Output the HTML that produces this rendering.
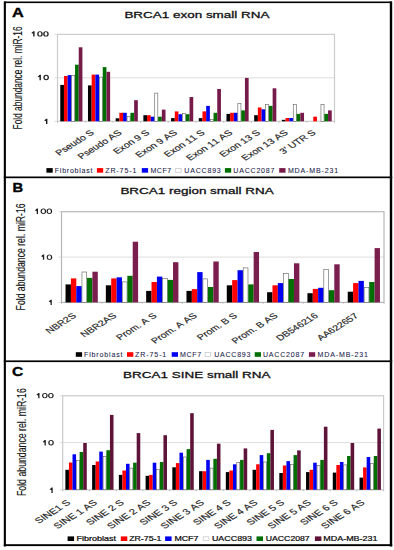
<!DOCTYPE html><html><head><meta charset="utf-8"><style>html,body{margin:0;padding:0;background:#fff;width:394px;height:550px;overflow:hidden}svg{display:block}text{font-family:"Liberation Sans", sans-serif;font-kerning:none}</style></head><body>
<svg width="394" height="550" viewBox="0 0 394 550">
<rect x="0" y="0" width="394" height="550" fill="#fff"/>
<line x1="57.5" y1="77.8" x2="334.5" y2="77.8" stroke="#d4d4d4" stroke-width="0.8"/>
<rect x="57.5" y="34.4" width="277" height="86.9" fill="none" stroke="#cdcdcd" stroke-width="1.2"/>
<line x1="54.5" y1="34.4" x2="57.5" y2="34.4" stroke="#d0d0d0" stroke-width="0.7"/>
<line x1="54.5" y1="77.8" x2="57.5" y2="77.8" stroke="#d0d0d0" stroke-width="0.7"/>
<line x1="54.5" y1="121.3" x2="57.5" y2="121.3" stroke="#d0d0d0" stroke-width="0.7"/>
<line x1="57.5" y1="121.3" x2="57.5" y2="122.9" stroke="#b8b8b8" stroke-width="0.8"/>
<line x1="85.2" y1="121.3" x2="85.2" y2="122.9" stroke="#b8b8b8" stroke-width="0.8"/>
<line x1="112.9" y1="121.3" x2="112.9" y2="122.9" stroke="#b8b8b8" stroke-width="0.8"/>
<line x1="140.6" y1="121.3" x2="140.6" y2="122.9" stroke="#b8b8b8" stroke-width="0.8"/>
<line x1="168.3" y1="121.3" x2="168.3" y2="122.9" stroke="#b8b8b8" stroke-width="0.8"/>
<line x1="196" y1="121.3" x2="196" y2="122.9" stroke="#b8b8b8" stroke-width="0.8"/>
<line x1="223.7" y1="121.3" x2="223.7" y2="122.9" stroke="#b8b8b8" stroke-width="0.8"/>
<line x1="251.4" y1="121.3" x2="251.4" y2="122.9" stroke="#b8b8b8" stroke-width="0.8"/>
<line x1="279.1" y1="121.3" x2="279.1" y2="122.9" stroke="#b8b8b8" stroke-width="0.8"/>
<line x1="306.8" y1="121.3" x2="306.8" y2="122.9" stroke="#b8b8b8" stroke-width="0.8"/>
<line x1="334.5" y1="121.3" x2="334.5" y2="122.9" stroke="#b8b8b8" stroke-width="0.8"/>
<rect x="60.27" y="84.9" width="3.69" height="36.4" fill="#000000"/>
<rect x="63.96" y="76" width="3.69" height="45.3" fill="#ff0000"/>
<rect x="67.66" y="75.1" width="3.69" height="46.2" fill="#0000f0"/>
<rect x="71.65" y="75.6" width="3.09" height="45.7" fill="#ffffff" stroke="#505050" stroke-width="0.55"/>
<rect x="75.04" y="64.7" width="3.69" height="56.6" fill="#006e00"/>
<rect x="78.74" y="47.3" width="3.69" height="74" fill="#761a4a"/>
<rect x="87.97" y="85.4" width="3.69" height="35.9" fill="#000000"/>
<rect x="91.66" y="74.6" width="3.69" height="46.7" fill="#ff0000"/>
<rect x="95.36" y="74.6" width="3.69" height="46.7" fill="#0000f0"/>
<rect x="99.35" y="77.1" width="3.09" height="44.2" fill="#ffffff" stroke="#505050" stroke-width="0.55"/>
<rect x="102.74" y="67.1" width="3.69" height="54.2" fill="#006e00"/>
<rect x="106.44" y="71.8" width="3.69" height="49.5" fill="#761a4a"/>
<rect x="115.67" y="118.3" width="3.69" height="3" fill="#000000"/>
<rect x="119.36" y="112.8" width="3.69" height="8.5" fill="#ff0000"/>
<rect x="123.06" y="112.8" width="3.69" height="8.5" fill="#0000f0"/>
<rect x="127.05" y="116.4" width="3.09" height="4.9" fill="#ffffff" stroke="#505050" stroke-width="0.55"/>
<rect x="130.44" y="112.8" width="3.69" height="8.5" fill="#006e00"/>
<rect x="134.14" y="100.2" width="3.69" height="21.1" fill="#761a4a"/>
<rect x="143.37" y="115.2" width="3.69" height="6.1" fill="#000000"/>
<rect x="147.06" y="115.2" width="3.69" height="6.1" fill="#ff0000"/>
<rect x="150.76" y="116.7" width="3.69" height="4.6" fill="#0000f0"/>
<rect x="154.75" y="93.1" width="3.09" height="28.2" fill="#ffffff" stroke="#505050" stroke-width="0.55"/>
<rect x="158.14" y="116.7" width="3.69" height="4.6" fill="#006e00"/>
<rect x="161.84" y="109.6" width="3.69" height="11.7" fill="#761a4a"/>
<rect x="171.07" y="118.1" width="3.69" height="3.2" fill="#000000"/>
<rect x="174.76" y="111.4" width="3.69" height="9.9" fill="#ff0000"/>
<rect x="178.46" y="114.2" width="3.69" height="7.1" fill="#0000f0"/>
<rect x="182.45" y="113.7" width="3.09" height="7.6" fill="#ffffff" stroke="#505050" stroke-width="0.55"/>
<rect x="185.84" y="114.2" width="3.69" height="7.1" fill="#006e00"/>
<rect x="189.54" y="97" width="3.69" height="24.3" fill="#761a4a"/>
<rect x="198.77" y="118.1" width="3.69" height="3.2" fill="#000000"/>
<rect x="202.46" y="111.4" width="3.69" height="9.9" fill="#ff0000"/>
<rect x="206.16" y="105.9" width="3.69" height="15.4" fill="#0000f0"/>
<rect x="210.15" y="119.5" width="3.09" height="1.8" fill="#ffffff" stroke="#505050" stroke-width="0.55"/>
<rect x="213.54" y="112.8" width="3.69" height="8.5" fill="#006e00"/>
<rect x="217.24" y="89" width="3.69" height="32.3" fill="#761a4a"/>
<rect x="226.47" y="113.9" width="3.69" height="7.4" fill="#000000"/>
<rect x="230.16" y="112.8" width="3.69" height="8.5" fill="#ff0000"/>
<rect x="233.86" y="112.8" width="3.69" height="8.5" fill="#0000f0"/>
<rect x="237.85" y="103.5" width="3.09" height="17.8" fill="#ffffff" stroke="#505050" stroke-width="0.55"/>
<rect x="241.24" y="110.4" width="3.69" height="10.9" fill="#006e00"/>
<rect x="244.94" y="77.9" width="3.69" height="43.4" fill="#761a4a"/>
<rect x="254.17" y="115.2" width="3.69" height="6.1" fill="#000000"/>
<rect x="257.86" y="107.5" width="3.69" height="13.8" fill="#ff0000"/>
<rect x="261.56" y="109.3" width="3.69" height="12" fill="#0000f0"/>
<rect x="265.55" y="104.4" width="3.09" height="16.9" fill="#ffffff" stroke="#505050" stroke-width="0.55"/>
<rect x="268.94" y="105.9" width="3.69" height="15.4" fill="#006e00"/>
<rect x="272.64" y="88.3" width="3.69" height="33" fill="#761a4a"/>
<rect x="281.87" y="119.8" width="3.69" height="1.5" fill="#000000"/>
<rect x="285.56" y="118" width="3.69" height="3.3" fill="#ff0000"/>
<rect x="289.26" y="118" width="3.69" height="3.3" fill="#0000f0"/>
<rect x="293.25" y="104.4" width="3.09" height="16.9" fill="#ffffff" stroke="#505050" stroke-width="0.55"/>
<rect x="296.64" y="113.9" width="3.69" height="7.4" fill="#006e00"/>
<rect x="300.34" y="112.8" width="3.69" height="8.5" fill="#761a4a"/>
<rect x="313.26" y="116.7" width="3.69" height="4.6" fill="#ff0000"/>
<rect x="320.95" y="104.4" width="3.09" height="16.9" fill="#ffffff" stroke="#505050" stroke-width="0.55"/>
<rect x="324.34" y="113.9" width="3.69" height="7.4" fill="#006e00"/>
<rect x="328.04" y="110.4" width="3.69" height="10.9" fill="#761a4a"/>
<path d="M33.2 36.6 L34.6 36.6 L34.6 31.2 L33.4 31.2 L31.3 33.1 L33.2 33.75 Z" fill="#1e1e1e"/>
<ellipse cx="39.95" cy="33.9" rx="2.75" ry="2.7" fill="#1e1e1e"/>
<ellipse cx="39.95" cy="33.9" rx="1.45" ry="1.82" fill="#fff"/>
<ellipse cx="45.95" cy="33.9" rx="2.75" ry="2.7" fill="#1e1e1e"/>
<ellipse cx="45.95" cy="33.9" rx="1.45" ry="1.82" fill="#fff"/>
<path d="M39.5 80.15 L40.9 80.15 L40.9 74.75 L39.7 74.75 L37.6 76.65 L39.5 77.3 Z" fill="#1e1e1e"/>
<ellipse cx="46.15" cy="77.45" rx="2.75" ry="2.7" fill="#1e1e1e"/>
<ellipse cx="46.15" cy="77.45" rx="1.45" ry="1.82" fill="#fff"/>
<path d="M46 124.1 L47.4 124.1 L47.4 118.7 L46.2 118.7 L44.1 120.6 L46 121.25 Z" fill="#1e1e1e"/>
<text transform="translate(21.8 77.95) scale(1 0.69) rotate(-90)" font-size="12" text-anchor="middle" fill="#111" font-weight="normal" stroke="#111" stroke-width="0.12" textLength="149.35" lengthAdjust="spacingAndGlyphs">Fold abundance rel. miR-16</text>
<text transform="matrix(0.7338 -0.4675 0.6282 0.5271 94.8 133.4)" font-size="11.2" text-anchor="end" fill="#262626" stroke="#262626" stroke-width="0.22">Pseudo S</text>
<text transform="matrix(0.7338 -0.4675 0.6282 0.5271 122.5 133.4)" font-size="11.2" text-anchor="end" fill="#262626" stroke="#262626" stroke-width="0.22">Pseudo AS</text>
<text transform="matrix(0.7338 -0.4675 0.6282 0.5271 150.2 133.4)" font-size="11.2" text-anchor="end" fill="#262626" stroke="#262626" stroke-width="0.22">Exon 9 S</text>
<text transform="matrix(0.7338 -0.4675 0.6282 0.5271 177.9 133.4)" font-size="11.2" text-anchor="end" fill="#262626" stroke="#262626" stroke-width="0.22">Exon 9 AS</text>
<text transform="matrix(0.7338 -0.4675 0.6282 0.5271 205.6 133.4)" font-size="11.2" text-anchor="end" fill="#262626" stroke="#262626" stroke-width="0.22">Exon 11 S</text>
<text transform="matrix(0.7338 -0.4675 0.6282 0.5271 233.3 133.4)" font-size="11.2" text-anchor="end" fill="#262626" stroke="#262626" stroke-width="0.22">Exon 11 AS</text>
<text transform="matrix(0.7338 -0.4675 0.6282 0.5271 261 133.4)" font-size="11.2" text-anchor="end" fill="#262626" stroke="#262626" stroke-width="0.22">Exon 13 S</text>
<text transform="matrix(0.7338 -0.4675 0.6282 0.5271 288.7 133.4)" font-size="11.2" text-anchor="end" fill="#262626" stroke="#262626" stroke-width="0.22">Exon 13 AS</text>
<text transform="matrix(0.7338 -0.4675 0.6282 0.5271 316.4 133.4)" font-size="11.2" text-anchor="end" fill="#262626" stroke="#262626" stroke-width="0.22">3' UTR S</text>
<text transform="translate(124.4 18.3) scale(1 0.69)" font-size="14" text-anchor="start" font-weight="normal" fill="#111" textLength="145" lengthAdjust="spacingAndGlyphs" stroke="#111" stroke-width="0.45">BRCA1 exon small RNA</text>
<text transform="translate(11.9 17.1) scale(1 0.69)" font-size="18.4" text-anchor="start" font-weight="bold" fill="#000" textLength="11.8" lengthAdjust="spacingAndGlyphs" stroke="#000" stroke-width="0.5">A</text>
<rect x="46.4" y="168.1" width="6.3" height="4.6" fill="#000000"/>
<text transform="translate(54.8 172.6) scale(0.72 0.69)" font-size="9.8" text-anchor="start" font-weight="normal" fill="#23234a" textLength="52.36" lengthAdjust="spacing" stroke="#23234a" stroke-width="0.1">Fibroblast</text>
<rect x="96.9" y="168.1" width="6.3" height="4.6" fill="#ff0000"/>
<text transform="translate(105.2 172.6) scale(0.72 0.69)" font-size="9.8" text-anchor="start" font-weight="normal" fill="#23234a" textLength="43.33" lengthAdjust="spacing" stroke="#23234a" stroke-width="0.1">ZR-75-1</text>
<rect x="141.8" y="168.1" width="6.3" height="4.6" fill="#0000f0"/>
<text transform="translate(150.4 172.6) scale(0.72 0.69)" font-size="9.8" text-anchor="start" font-weight="normal" fill="#23234a" textLength="28.89" lengthAdjust="spacing" stroke="#23234a" stroke-width="0.1">MCF7</text>
<rect x="175.7" y="168.5" width="5.5" height="3.8" fill="#ffffff" stroke="#c4c4c4" stroke-width="0.7"/>
<text transform="translate(184.3 172.6) scale(0.72 0.69)" font-size="9.8" text-anchor="start" font-weight="normal" fill="#23234a" textLength="50.69" lengthAdjust="spacing" stroke="#23234a" stroke-width="0.1">UACC893</text>
<rect x="224.9" y="168.1" width="6.3" height="4.6" fill="#006e00"/>
<text transform="translate(233.3 172.6) scale(0.72 0.69)" font-size="9.8" text-anchor="start" font-weight="normal" fill="#23234a" textLength="57.08" lengthAdjust="spacing" stroke="#23234a" stroke-width="0.1">UACC2087</text>
<rect x="279.2" y="168.1" width="6.3" height="4.6" fill="#761a4a"/>
<text transform="translate(287.9 172.6) scale(0.72 0.69)" font-size="9.8" text-anchor="start" font-weight="normal" fill="#23234a" textLength="69.86" lengthAdjust="spacing" stroke="#23234a" stroke-width="0.1">MDA-MB-231</text>
<line x1="61.5" y1="257.1" x2="384" y2="257.1" stroke="#d4d4d4" stroke-width="0.8"/>
<rect x="61.5" y="211.7" width="322.5" height="90.7" fill="none" stroke="#b4b4b4" stroke-width="1.15"/>
<line x1="58.5" y1="211.7" x2="61.5" y2="211.7" stroke="#d0d0d0" stroke-width="0.7"/>
<line x1="58.5" y1="257.1" x2="61.5" y2="257.1" stroke="#d0d0d0" stroke-width="0.7"/>
<line x1="58.5" y1="302.4" x2="61.5" y2="302.4" stroke="#d0d0d0" stroke-width="0.7"/>
<line x1="61.5" y1="302.4" x2="61.5" y2="304" stroke="#b8b8b8" stroke-width="0.8"/>
<line x1="101.81" y1="302.4" x2="101.81" y2="304" stroke="#b8b8b8" stroke-width="0.8"/>
<line x1="142.12" y1="302.4" x2="142.12" y2="304" stroke="#b8b8b8" stroke-width="0.8"/>
<line x1="182.44" y1="302.4" x2="182.44" y2="304" stroke="#b8b8b8" stroke-width="0.8"/>
<line x1="222.75" y1="302.4" x2="222.75" y2="304" stroke="#b8b8b8" stroke-width="0.8"/>
<line x1="263.06" y1="302.4" x2="263.06" y2="304" stroke="#b8b8b8" stroke-width="0.8"/>
<line x1="303.38" y1="302.4" x2="303.38" y2="304" stroke="#b8b8b8" stroke-width="0.8"/>
<line x1="343.69" y1="302.4" x2="343.69" y2="304" stroke="#b8b8b8" stroke-width="0.8"/>
<line x1="384" y1="302.4" x2="384" y2="304" stroke="#b8b8b8" stroke-width="0.8"/>
<rect x="65.53" y="284.4" width="5.38" height="18" fill="#000000"/>
<rect x="70.91" y="278.4" width="5.38" height="24" fill="#ff0000"/>
<rect x="76.28" y="286.1" width="5.38" height="16.3" fill="#0000f0"/>
<rect x="81.96" y="272" width="4.78" height="30.4" fill="#ffffff" stroke="#505050" stroke-width="0.55"/>
<rect x="87.03" y="277.9" width="5.38" height="24.5" fill="#006e00"/>
<rect x="92.41" y="271.7" width="5.38" height="30.7" fill="#7a1e4e"/>
<rect x="105.84" y="285.3" width="5.38" height="17.1" fill="#000000"/>
<rect x="111.22" y="278.4" width="5.38" height="24" fill="#ff0000"/>
<rect x="116.59" y="277.3" width="5.38" height="25.1" fill="#0000f0"/>
<rect x="122.27" y="281.9" width="4.78" height="20.5" fill="#ffffff" stroke="#505050" stroke-width="0.55"/>
<rect x="127.34" y="275.8" width="5.38" height="26.6" fill="#006e00"/>
<rect x="132.72" y="241.7" width="5.38" height="60.7" fill="#7a1e4e"/>
<rect x="146.16" y="290.9" width="5.38" height="11.5" fill="#000000"/>
<rect x="151.53" y="282" width="5.38" height="20.4" fill="#ff0000"/>
<rect x="156.91" y="276.6" width="5.38" height="25.8" fill="#0000f0"/>
<rect x="162.58" y="278.7" width="4.78" height="23.7" fill="#ffffff" stroke="#505050" stroke-width="0.55"/>
<rect x="167.66" y="279.9" width="5.38" height="22.5" fill="#006e00"/>
<rect x="173.03" y="262.2" width="5.38" height="40.2" fill="#7a1e4e"/>
<rect x="186.47" y="290.9" width="5.38" height="11.5" fill="#000000"/>
<rect x="191.84" y="289.1" width="5.38" height="13.3" fill="#ff0000"/>
<rect x="197.22" y="272.1" width="5.38" height="30.3" fill="#0000f0"/>
<rect x="202.89" y="278.9" width="4.78" height="23.5" fill="#ffffff" stroke="#505050" stroke-width="0.55"/>
<rect x="207.97" y="287" width="5.38" height="15.4" fill="#006e00"/>
<rect x="213.34" y="261.5" width="5.38" height="40.9" fill="#7a1e4e"/>
<rect x="226.78" y="285.3" width="5.38" height="17.1" fill="#000000"/>
<rect x="232.16" y="280.1" width="5.38" height="22.3" fill="#ff0000"/>
<rect x="237.53" y="270.2" width="5.38" height="32.2" fill="#0000f0"/>
<rect x="243.21" y="267.9" width="4.78" height="34.5" fill="#ffffff" stroke="#505050" stroke-width="0.55"/>
<rect x="248.28" y="284.4" width="5.38" height="18" fill="#006e00"/>
<rect x="253.66" y="252" width="5.38" height="50.4" fill="#7a1e4e"/>
<rect x="267.09" y="292.2" width="5.38" height="10.2" fill="#000000"/>
<rect x="272.47" y="285.3" width="5.38" height="17.1" fill="#ff0000"/>
<rect x="277.84" y="283.1" width="5.38" height="19.3" fill="#0000f0"/>
<rect x="283.52" y="273.5" width="4.78" height="28.9" fill="#ffffff" stroke="#505050" stroke-width="0.55"/>
<rect x="288.59" y="279" width="5.38" height="23.4" fill="#006e00"/>
<rect x="293.97" y="263.3" width="5.38" height="39.1" fill="#7a1e4e"/>
<rect x="307.41" y="293.2" width="5.38" height="9.2" fill="#000000"/>
<rect x="312.78" y="288.9" width="5.38" height="13.5" fill="#ff0000"/>
<rect x="318.16" y="287.8" width="5.38" height="14.6" fill="#0000f0"/>
<rect x="323.83" y="269.6" width="4.78" height="32.8" fill="#ffffff" stroke="#505050" stroke-width="0.55"/>
<rect x="328.91" y="290.2" width="5.38" height="12.2" fill="#006e00"/>
<rect x="334.28" y="264.3" width="5.38" height="38.1" fill="#7a1e4e"/>
<rect x="347.72" y="291.7" width="5.38" height="10.7" fill="#000000"/>
<rect x="353.09" y="283.1" width="5.38" height="19.3" fill="#ff0000"/>
<rect x="358.47" y="280.9" width="5.38" height="21.5" fill="#0000f0"/>
<rect x="364.14" y="287.7" width="4.78" height="14.7" fill="#ffffff" stroke="#505050" stroke-width="0.55"/>
<rect x="369.22" y="282" width="5.38" height="20.4" fill="#006e00"/>
<rect x="374.59" y="248.1" width="5.38" height="54.3" fill="#7a1e4e"/>
<path d="M36.7 213.95 L38 213.95 L38 208.55 L36.9 208.55 L34.8 210.45 L36.7 211.05 Z" fill="#1e1e1e"/>
<ellipse cx="43.35" cy="211.25" rx="2.75" ry="2.7" fill="#1e1e1e"/>
<ellipse cx="43.35" cy="211.25" rx="1.55" ry="1.88" fill="#fff"/>
<ellipse cx="49.35" cy="211.25" rx="2.75" ry="2.7" fill="#1e1e1e"/>
<ellipse cx="49.35" cy="211.25" rx="1.55" ry="1.88" fill="#fff"/>
<path d="M42.9 259.85 L44.2 259.85 L44.2 254.45 L43.1 254.45 L41 256.35 L42.9 256.95 Z" fill="#1e1e1e"/>
<ellipse cx="49.45" cy="257.15" rx="2.75" ry="2.7" fill="#1e1e1e"/>
<ellipse cx="49.45" cy="257.15" rx="1.55" ry="1.88" fill="#fff"/>
<path d="M50.5 305.1 L51.8 305.1 L51.8 299.7 L50.7 299.7 L48.6 301.6 L50.5 302.2 Z" fill="#1e1e1e"/>
<text transform="translate(25.1 256.9) scale(1 0.69) rotate(-90)" font-size="12" text-anchor="middle" fill="#111" font-weight="normal" stroke="#111" stroke-width="0.12" textLength="155.15" lengthAdjust="spacingAndGlyphs">Fold abundance rel. miR-16</text>
<text transform="matrix(0.7338 -0.4675 0.6282 0.5271 76.9 316.6)" font-size="11.2" text-anchor="end" fill="#262626" stroke="#262626" stroke-width="0.22">NBR2S</text>
<text transform="matrix(0.7338 -0.4675 0.6282 0.5271 117.2 316.6)" font-size="11.2" text-anchor="end" fill="#262626" stroke="#262626" stroke-width="0.22">NBR2AS</text>
<text transform="matrix(0.7338 -0.4675 0.6282 0.5271 157.5 316.6)" font-size="11.2" text-anchor="end" fill="#262626" stroke="#262626" stroke-width="0.22">Prom. A S</text>
<text transform="matrix(0.7338 -0.4675 0.6282 0.5271 197.8 316.6)" font-size="11.2" text-anchor="end" fill="#262626" stroke="#262626" stroke-width="0.22">Prom. A AS</text>
<text transform="matrix(0.7338 -0.4675 0.6282 0.5271 238.1 316.6)" font-size="11.2" text-anchor="end" fill="#262626" stroke="#262626" stroke-width="0.22">Prom. B S</text>
<text transform="matrix(0.7338 -0.4675 0.6282 0.5271 278.4 316.6)" font-size="11.2" text-anchor="end" fill="#262626" stroke="#262626" stroke-width="0.22">Prom. B AS</text>
<text transform="matrix(0.7338 -0.4675 0.6282 0.5271 318.7 316.6)" font-size="11.2" text-anchor="end" fill="#262626" stroke="#262626" stroke-width="0.22">DB546216</text>
<text transform="matrix(0.7338 -0.4675 0.6282 0.5271 359 316.6)" font-size="11.2" text-anchor="end" fill="#262626" stroke="#262626" stroke-width="0.22">AA622657</text>
<text transform="translate(120.4 193.8) scale(1 0.69)" font-size="14" text-anchor="start" font-weight="normal" fill="#111" textLength="153.2" lengthAdjust="spacingAndGlyphs" stroke="#111" stroke-width="0.45">BRCA1 region small RNA</text>
<text transform="translate(12.6 191.7) scale(1 0.69)" font-size="18.4" text-anchor="start" font-weight="bold" fill="#000" textLength="10.7" lengthAdjust="spacingAndGlyphs" stroke="#000" stroke-width="0.5">B</text>
<rect x="75.8" y="352.2" width="6.3" height="4.6" fill="#000000"/>
<text transform="translate(84.1 356.6) scale(0.72 0.69)" font-size="9.8" text-anchor="start" font-weight="normal" fill="#23234a" textLength="53.33" lengthAdjust="spacing" stroke="#23234a" stroke-width="0.1">Fibroblast</text>
<rect x="127" y="352.2" width="6.3" height="4.6" fill="#ff0000"/>
<text transform="translate(135.1 356.6) scale(0.72 0.69)" font-size="9.8" text-anchor="start" font-weight="normal" fill="#23234a" textLength="43.33" lengthAdjust="spacing" stroke="#23234a" stroke-width="0.1">ZR-75-1</text>
<rect x="171.7" y="352.2" width="6.3" height="4.6" fill="#0000f0"/>
<text transform="translate(179.9 356.6) scale(0.72 0.69)" font-size="9.8" text-anchor="start" font-weight="normal" fill="#23234a" textLength="29.58" lengthAdjust="spacing" stroke="#23234a" stroke-width="0.1">MCF7</text>
<rect x="205.1" y="352.6" width="5.5" height="3.8" fill="#ffffff" stroke="#c4c4c4" stroke-width="0.7"/>
<text transform="translate(214.3 356.6) scale(0.72 0.69)" font-size="9.8" text-anchor="start" font-weight="normal" fill="#23234a" textLength="50.14" lengthAdjust="spacing" stroke="#23234a" stroke-width="0.1">UACC893</text>
<rect x="254.7" y="352.2" width="6.3" height="4.6" fill="#006e00"/>
<text transform="translate(263 356.6) scale(0.72 0.69)" font-size="9.8" text-anchor="start" font-weight="normal" fill="#23234a" textLength="57.08" lengthAdjust="spacing" stroke="#23234a" stroke-width="0.1">UACC2087</text>
<rect x="308.9" y="352.2" width="6.3" height="4.6" fill="#7a1e4e"/>
<text transform="translate(317.6 356.6) scale(0.72 0.69)" font-size="9.8" text-anchor="start" font-weight="normal" fill="#23234a" textLength="69.86" lengthAdjust="spacing" stroke="#23234a" stroke-width="0.1">MDA-MB-231</text>
<line x1="62.7" y1="442.6" x2="383.6" y2="442.6" stroke="#d4d4d4" stroke-width="0.8"/>
<rect x="62.7" y="395.8" width="320.9" height="94" fill="none" stroke="#cacaca" stroke-width="1.2"/>
<line x1="59.7" y1="395.8" x2="62.7" y2="395.8" stroke="#d0d0d0" stroke-width="0.7"/>
<line x1="59.7" y1="442.6" x2="62.7" y2="442.6" stroke="#d0d0d0" stroke-width="0.7"/>
<line x1="59.7" y1="489.8" x2="62.7" y2="489.8" stroke="#d0d0d0" stroke-width="0.7"/>
<line x1="62.7" y1="489.8" x2="62.7" y2="491.4" stroke="#b8b8b8" stroke-width="0.8"/>
<line x1="89.44" y1="489.8" x2="89.44" y2="491.4" stroke="#b8b8b8" stroke-width="0.8"/>
<line x1="116.18" y1="489.8" x2="116.18" y2="491.4" stroke="#b8b8b8" stroke-width="0.8"/>
<line x1="142.93" y1="489.8" x2="142.93" y2="491.4" stroke="#b8b8b8" stroke-width="0.8"/>
<line x1="169.67" y1="489.8" x2="169.67" y2="491.4" stroke="#b8b8b8" stroke-width="0.8"/>
<line x1="196.41" y1="489.8" x2="196.41" y2="491.4" stroke="#b8b8b8" stroke-width="0.8"/>
<line x1="223.15" y1="489.8" x2="223.15" y2="491.4" stroke="#b8b8b8" stroke-width="0.8"/>
<line x1="249.89" y1="489.8" x2="249.89" y2="491.4" stroke="#b8b8b8" stroke-width="0.8"/>
<line x1="276.63" y1="489.8" x2="276.63" y2="491.4" stroke="#b8b8b8" stroke-width="0.8"/>
<line x1="303.38" y1="489.8" x2="303.38" y2="491.4" stroke="#b8b8b8" stroke-width="0.8"/>
<line x1="330.12" y1="489.8" x2="330.12" y2="491.4" stroke="#b8b8b8" stroke-width="0.8"/>
<line x1="356.86" y1="489.8" x2="356.86" y2="491.4" stroke="#b8b8b8" stroke-width="0.8"/>
<line x1="383.6" y1="489.8" x2="383.6" y2="491.4" stroke="#b8b8b8" stroke-width="0.8"/>
<rect x="65.37" y="469.8" width="3.57" height="20" fill="#000000"/>
<rect x="68.94" y="462.5" width="3.57" height="27.3" fill="#ff0000"/>
<rect x="72.51" y="454.3" width="3.57" height="35.5" fill="#0000f0"/>
<rect x="76.37" y="460.6" width="2.97" height="29.2" fill="#ffffff" stroke="#505050" stroke-width="0.55"/>
<rect x="79.64" y="452" width="3.57" height="37.8" fill="#006e00"/>
<rect x="83.2" y="443" width="3.57" height="46.8" fill="#5e1438"/>
<rect x="92.12" y="465" width="3.57" height="24.8" fill="#000000"/>
<rect x="95.68" y="461.5" width="3.57" height="28.3" fill="#ff0000"/>
<rect x="99.25" y="451.6" width="3.57" height="38.2" fill="#0000f0"/>
<rect x="103.11" y="456.7" width="2.97" height="33.1" fill="#ffffff" stroke="#505050" stroke-width="0.55"/>
<rect x="106.38" y="450.2" width="3.57" height="39.6" fill="#006e00"/>
<rect x="109.94" y="414.9" width="3.57" height="74.9" fill="#5e1438"/>
<rect x="118.86" y="474.9" width="3.57" height="14.9" fill="#000000"/>
<rect x="122.42" y="470.5" width="3.57" height="19.3" fill="#ff0000"/>
<rect x="125.99" y="463.8" width="3.57" height="26" fill="#0000f0"/>
<rect x="129.85" y="468.1" width="2.97" height="21.7" fill="#ffffff" stroke="#505050" stroke-width="0.55"/>
<rect x="133.12" y="462.7" width="3.57" height="27.1" fill="#006e00"/>
<rect x="136.69" y="433.1" width="3.57" height="56.7" fill="#5e1438"/>
<rect x="145.6" y="475.8" width="3.57" height="14" fill="#000000"/>
<rect x="149.16" y="474.9" width="3.57" height="14.9" fill="#ff0000"/>
<rect x="152.73" y="462.7" width="3.57" height="27.1" fill="#0000f0"/>
<rect x="156.6" y="469.4" width="2.97" height="20.4" fill="#ffffff" stroke="#505050" stroke-width="0.55"/>
<rect x="159.86" y="462" width="3.57" height="27.8" fill="#006e00"/>
<rect x="163.43" y="435.2" width="3.57" height="54.6" fill="#5e1438"/>
<rect x="172.34" y="467.3" width="3.57" height="22.5" fill="#000000"/>
<rect x="175.91" y="463.1" width="3.57" height="26.7" fill="#ff0000"/>
<rect x="179.47" y="452.7" width="3.57" height="37.1" fill="#0000f0"/>
<rect x="183.34" y="457" width="2.97" height="32.8" fill="#ffffff" stroke="#505050" stroke-width="0.55"/>
<rect x="186.6" y="449.1" width="3.57" height="40.7" fill="#006e00"/>
<rect x="190.17" y="413.2" width="3.57" height="76.6" fill="#5e1438"/>
<rect x="199.08" y="471.2" width="3.57" height="18.6" fill="#000000"/>
<rect x="202.65" y="471.2" width="3.57" height="18.6" fill="#ff0000"/>
<rect x="206.21" y="459.9" width="3.57" height="29.9" fill="#0000f0"/>
<rect x="210.08" y="468.1" width="2.97" height="21.7" fill="#ffffff" stroke="#505050" stroke-width="0.55"/>
<rect x="213.34" y="458.8" width="3.57" height="31" fill="#006e00"/>
<rect x="216.91" y="443.7" width="3.57" height="46.1" fill="#5e1438"/>
<rect x="225.82" y="472.1" width="3.57" height="17.7" fill="#000000"/>
<rect x="229.39" y="470.5" width="3.57" height="19.3" fill="#ff0000"/>
<rect x="232.96" y="464.3" width="3.57" height="25.5" fill="#0000f0"/>
<rect x="236.82" y="462.3" width="2.97" height="27.5" fill="#ffffff" stroke="#505050" stroke-width="0.55"/>
<rect x="240.09" y="459.9" width="3.57" height="29.9" fill="#006e00"/>
<rect x="243.65" y="448.4" width="3.57" height="41.4" fill="#5e1438"/>
<rect x="252.57" y="469.8" width="3.57" height="20" fill="#000000"/>
<rect x="256.13" y="464.3" width="3.57" height="25.5" fill="#ff0000"/>
<rect x="259.7" y="455.1" width="3.57" height="34.7" fill="#0000f0"/>
<rect x="263.56" y="462" width="2.97" height="27.8" fill="#ffffff" stroke="#505050" stroke-width="0.55"/>
<rect x="266.83" y="453.2" width="3.57" height="36.6" fill="#006e00"/>
<rect x="270.39" y="429.9" width="3.57" height="59.9" fill="#5e1438"/>
<rect x="279.31" y="473" width="3.57" height="16.8" fill="#000000"/>
<rect x="282.87" y="465.5" width="3.57" height="24.3" fill="#ff0000"/>
<rect x="286.44" y="461.1" width="3.57" height="28.7" fill="#0000f0"/>
<rect x="290.3" y="464.6" width="2.97" height="25.2" fill="#ffffff" stroke="#505050" stroke-width="0.55"/>
<rect x="293.57" y="455.1" width="3.57" height="34.7" fill="#006e00"/>
<rect x="297.14" y="450.4" width="3.57" height="39.4" fill="#5e1438"/>
<rect x="306.05" y="472.1" width="3.57" height="17.7" fill="#000000"/>
<rect x="309.61" y="469.8" width="3.57" height="20" fill="#ff0000"/>
<rect x="313.18" y="462.7" width="3.57" height="27.1" fill="#0000f0"/>
<rect x="317.05" y="465.5" width="2.97" height="24.3" fill="#ffffff" stroke="#505050" stroke-width="0.55"/>
<rect x="320.31" y="459.9" width="3.57" height="29.9" fill="#006e00"/>
<rect x="323.88" y="426.7" width="3.57" height="63.1" fill="#5e1438"/>
<rect x="332.79" y="472.6" width="3.57" height="17.2" fill="#000000"/>
<rect x="336.36" y="465" width="3.57" height="24.8" fill="#ff0000"/>
<rect x="339.92" y="462" width="3.57" height="27.8" fill="#0000f0"/>
<rect x="343.79" y="464.9" width="2.97" height="24.9" fill="#ffffff" stroke="#505050" stroke-width="0.55"/>
<rect x="347.05" y="456" width="3.57" height="33.8" fill="#006e00"/>
<rect x="350.62" y="443" width="3.57" height="46.8" fill="#5e1438"/>
<rect x="359.53" y="477.6" width="3.57" height="12.2" fill="#000000"/>
<rect x="363.1" y="467.4" width="3.57" height="22.4" fill="#ff0000"/>
<rect x="366.66" y="457" width="3.57" height="32.8" fill="#0000f0"/>
<rect x="370.53" y="463.7" width="2.97" height="26.1" fill="#ffffff" stroke="#505050" stroke-width="0.55"/>
<rect x="373.79" y="456" width="3.57" height="33.8" fill="#006e00"/>
<rect x="377.36" y="428.6" width="3.57" height="61.2" fill="#5e1438"/>
<path d="M38.2 398.3 L39.5 398.3 L39.5 392.9 L38.4 392.9 L36.3 394.8 L38.2 395.4 Z" fill="#1e1e1e"/>
<ellipse cx="44.85" cy="395.6" rx="2.75" ry="2.7" fill="#1e1e1e"/>
<ellipse cx="44.85" cy="395.6" rx="1.55" ry="1.88" fill="#fff"/>
<ellipse cx="50.85" cy="395.6" rx="2.75" ry="2.7" fill="#1e1e1e"/>
<ellipse cx="50.85" cy="395.6" rx="1.55" ry="1.88" fill="#fff"/>
<path d="M44.5 445.4 L45.8 445.4 L45.8 440 L44.7 440 L42.6 441.9 L44.5 442.5 Z" fill="#1e1e1e"/>
<ellipse cx="51.05" cy="442.7" rx="2.75" ry="2.7" fill="#1e1e1e"/>
<ellipse cx="51.05" cy="442.7" rx="1.55" ry="1.88" fill="#fff"/>
<path d="M51.4 492.95 L52.7 492.95 L52.7 487.55 L51.6 487.55 L49.5 489.45 L51.4 490.05 Z" fill="#1e1e1e"/>
<text transform="translate(25.5 442.1) scale(1 0.69) rotate(-90)" font-size="12" text-anchor="middle" fill="#111" font-weight="normal" stroke="#111" stroke-width="0.12" textLength="156.31" lengthAdjust="spacingAndGlyphs">Fold abundance rel. miR-16</text>
<text transform="matrix(0.7338 -0.4675 0.6282 0.5271 71.2 503.5)" font-size="11.5" text-anchor="end" fill="#262626" stroke="#262626" stroke-width="0.22">SINE1 S</text>
<text transform="matrix(0.7338 -0.4675 0.6282 0.5271 97.94 503.5)" font-size="11.5" text-anchor="end" fill="#262626" stroke="#262626" stroke-width="0.22">SINE 1 AS</text>
<text transform="matrix(0.7338 -0.4675 0.6282 0.5271 124.68 503.5)" font-size="11.5" text-anchor="end" fill="#262626" stroke="#262626" stroke-width="0.22">SINE 2 S</text>
<text transform="matrix(0.7338 -0.4675 0.6282 0.5271 151.42 503.5)" font-size="11.5" text-anchor="end" fill="#262626" stroke="#262626" stroke-width="0.22">SINE 2 AS</text>
<text transform="matrix(0.7338 -0.4675 0.6282 0.5271 178.16 503.5)" font-size="11.5" text-anchor="end" fill="#262626" stroke="#262626" stroke-width="0.22">SINE 3 S</text>
<text transform="matrix(0.7338 -0.4675 0.6282 0.5271 204.9 503.5)" font-size="11.5" text-anchor="end" fill="#262626" stroke="#262626" stroke-width="0.22">SINE 3 AS</text>
<text transform="matrix(0.7338 -0.4675 0.6282 0.5271 231.64 503.5)" font-size="11.5" text-anchor="end" fill="#262626" stroke="#262626" stroke-width="0.22">SINE 4 S</text>
<text transform="matrix(0.7338 -0.4675 0.6282 0.5271 258.38 503.5)" font-size="11.5" text-anchor="end" fill="#262626" stroke="#262626" stroke-width="0.22">SINE 4 AS</text>
<text transform="matrix(0.7338 -0.4675 0.6282 0.5271 285.12 503.5)" font-size="11.5" text-anchor="end" fill="#262626" stroke="#262626" stroke-width="0.22">SINE 5 S</text>
<text transform="matrix(0.7338 -0.4675 0.6282 0.5271 311.86 503.5)" font-size="11.5" text-anchor="end" fill="#262626" stroke="#262626" stroke-width="0.22">SINE 5 AS</text>
<text transform="matrix(0.7338 -0.4675 0.6282 0.5271 338.6 503.5)" font-size="11.5" text-anchor="end" fill="#262626" stroke="#262626" stroke-width="0.22">SINE 6 S</text>
<text transform="matrix(0.7338 -0.4675 0.6282 0.5271 365.34 503.5)" font-size="11.5" text-anchor="end" fill="#262626" stroke="#262626" stroke-width="0.22">SINE 6 AS</text>
<text transform="translate(123.1 378) scale(1 0.69)" font-size="14" text-anchor="start" font-weight="normal" fill="#111" textLength="147.4" lengthAdjust="spacingAndGlyphs" stroke="#111" stroke-width="0.45">BRCA1 SINE small RNA</text>
<text transform="translate(11.9 375.9) scale(1 0.69)" font-size="18.4" text-anchor="start" font-weight="bold" fill="#000" textLength="11.3" lengthAdjust="spacingAndGlyphs" stroke="#000" stroke-width="0.5">C</text>
<rect x="67.6" y="536.4" width="6.5" height="4.6" fill="#000000"/>
<text transform="translate(76.4 541.4) scale(1 0.69)" font-size="9.8" text-anchor="start" font-weight="normal" fill="#0a0a0a" textLength="39.6" lengthAdjust="spacingAndGlyphs" stroke="#0a0a0a" stroke-width="0.3">Fibroblast</text>
<rect x="120.8" y="536.4" width="6.5" height="4.6" fill="#ff0000"/>
<text transform="translate(129.2 541.4) scale(1 0.69)" font-size="9.8" text-anchor="start" font-weight="normal" fill="#0a0a0a" textLength="32.1" lengthAdjust="spacingAndGlyphs" stroke="#0a0a0a" stroke-width="0.3">ZR-75-1</text>
<rect x="165.1" y="536.4" width="6.5" height="4.6" fill="#0000f0"/>
<text transform="translate(174.4 541.4) scale(1 0.69)" font-size="9.8" text-anchor="start" font-weight="normal" fill="#0a0a0a" textLength="24" lengthAdjust="spacingAndGlyphs" stroke="#0a0a0a" stroke-width="0.3">MCF7</text>
<rect x="203.2" y="536.8" width="5.7" height="3.8" fill="#ffffff" stroke="#c4c4c4" stroke-width="0.7"/>
<text transform="translate(211.9 541.4) scale(1 0.69)" font-size="9.8" text-anchor="start" font-weight="normal" fill="#0a0a0a" textLength="40.1" lengthAdjust="spacingAndGlyphs" stroke="#0a0a0a" stroke-width="0.3">UACC893</text>
<rect x="256.5" y="536.4" width="6.5" height="4.6" fill="#006e00"/>
<text transform="translate(265.8 541.4) scale(1 0.69)" font-size="9.8" text-anchor="start" font-weight="normal" fill="#0a0a0a" textLength="43.9" lengthAdjust="spacingAndGlyphs" stroke="#0a0a0a" stroke-width="0.3">UACC2087</text>
<rect x="314.9" y="536.4" width="6.5" height="4.6" fill="#5e1438"/>
<text transform="translate(323.3 541.4) scale(1 0.69)" font-size="9.8" text-anchor="start" font-weight="normal" fill="#0a0a0a" textLength="54.2" lengthAdjust="spacingAndGlyphs" stroke="#0a0a0a" stroke-width="0.3">MDA-MB-231</text>
<rect x="4" y="1.5" width="388" height="1.6" fill="#000"/>
<rect x="3.8" y="1.5" width="2.1" height="545" fill="#000"/>
<rect x="389.8" y="1.5" width="2.4" height="545" fill="#000"/>
<rect x="3.8" y="544.2" width="388.4" height="1.9" fill="#000"/>
<rect x="3.8" y="176.5" width="388.4" height="1.7" fill="#000"/>
<rect x="3.8" y="360.4" width="388.4" height="1.7" fill="#000"/>
</svg></body></html>
